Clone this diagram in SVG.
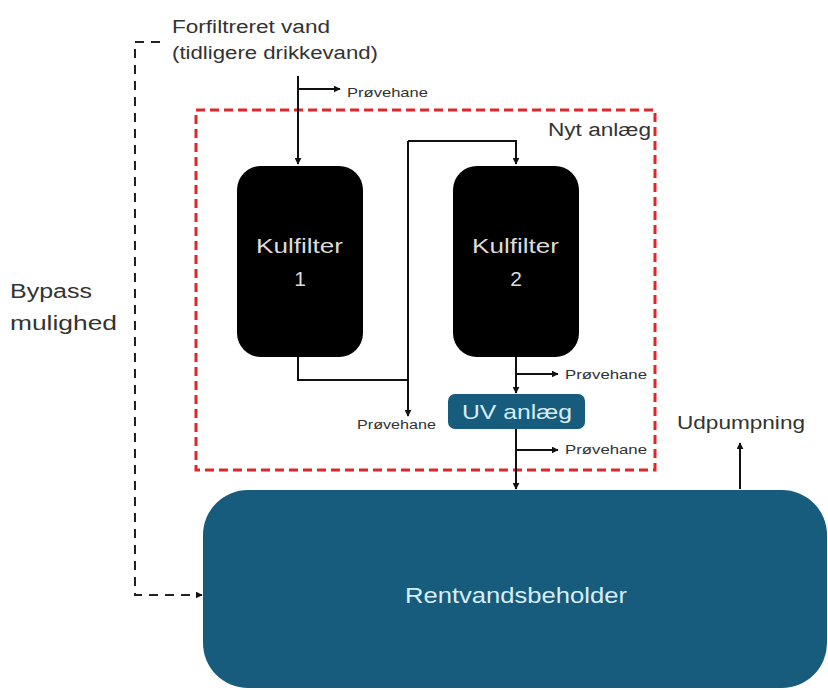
<svg xmlns="http://www.w3.org/2000/svg" width="828" height="690" viewBox="0 0 828 690">
<defs>
<marker id="ah" viewBox="0 0 10 10" refX="9" refY="5" markerWidth="7" markerHeight="7" orient="auto" markerUnits="userSpaceOnUse">
<path d="M0,0 L10,5 L0,10 z" fill="#111"/>
</marker>
<style>
.ln{fill:none;stroke:#111;stroke-width:2}
.dash{fill:none;stroke:#222;stroke-width:2;stroke-dasharray:9,7}
.red{fill:none;stroke:#e0262b;stroke-width:3;stroke-dasharray:9,5}
.t{font-family:"Liberation Sans",Arial,sans-serif;fill:#333}
.w{font-family:"Liberation Sans",Arial,sans-serif;fill:#dcdcdc}
.b{font-family:"Liberation Sans",Arial,sans-serif;fill:#d6eef8}
.filter{fill:#000}
.blue{fill:#175b7d}
</style>
</defs>
<rect width="828" height="690" fill="#fff"/>

<g id="nyt-anlaeg">
<rect class="red" x="196" y="110" width="459" height="360"/>
<text class="t" x="548" y="136" font-size="18" textLength="103" lengthAdjust="spacingAndGlyphs">Nyt anlæg</text>
</g>

<g id="rentvandsbeholder">
<rect class="blue" x="203" y="490" width="624" height="198" rx="45"/>
<text class="b" x="405" y="603" font-size="22" textLength="222" lengthAdjust="spacingAndGlyphs">Rentvandsbeholder</text>
</g>

<g id="kulfilter1">
<rect class="filter" x="237" y="166" width="126" height="191" rx="24"/>
<text class="w" x="256" y="253" font-size="21" textLength="87" lengthAdjust="spacingAndGlyphs">Kulfilter</text>
<text class="w" x="300" y="286" font-size="21" text-anchor="middle">1</text>
</g>

<g id="kulfilter2">
<rect class="filter" x="453" y="166" width="126" height="191" rx="24"/>
<text class="w" x="472" y="253" font-size="21" textLength="87" lengthAdjust="spacingAndGlyphs">Kulfilter</text>
<text class="w" x="516" y="286" font-size="21" text-anchor="middle">2</text>
</g>

<g id="uv-anlaeg">
<rect class="blue" x="448" y="394" width="137" height="35" rx="7"/>
<text class="b" x="462" y="419" font-size="21" textLength="110" lengthAdjust="spacingAndGlyphs">UV anlæg</text>
</g>

<g id="labels">
<text class="t" x="172" y="33" font-size="18" textLength="158" lengthAdjust="spacingAndGlyphs">Forfiltreret vand</text>
<text class="t" x="172" y="59" font-size="18" textLength="206" lengthAdjust="spacingAndGlyphs">(tidligere drikkevand)</text>
<text class="t" x="10" y="298" font-size="20" textLength="82" lengthAdjust="spacingAndGlyphs">Bypass</text>
<text class="t" x="10" y="330" font-size="20" textLength="107" lengthAdjust="spacingAndGlyphs">mulighed</text>
<text class="t" x="677" y="429" font-size="19" textLength="128" lengthAdjust="spacingAndGlyphs">Udpumpning</text>
<text class="t" x="347" y="97" font-size="13" textLength="81" lengthAdjust="spacingAndGlyphs">Prøvehane</text>
<text class="t" x="357" y="429" font-size="13" textLength="79" lengthAdjust="spacingAndGlyphs">Prøvehane</text>
<text class="t" x="565" y="379" font-size="13" textLength="82" lengthAdjust="spacingAndGlyphs">Prøvehane</text>
<text class="t" x="565" y="454" font-size="13" textLength="82" lengthAdjust="spacingAndGlyphs">Prøvehane</text>
</g>

<g id="connectors">
<path class="ln" d="M298,76 V164" marker-end="url(#ah)"/>
<path class="ln" d="M298,89 H340" marker-end="url(#ah)"/>
<path class="ln" d="M298,357 V380 H408"/>
<path class="ln" d="M408,141 V416" marker-end="url(#ah)"/>
<path class="ln" d="M408,141 H516 V164" marker-end="url(#ah)"/>
<path class="ln" d="M516,357 V393" marker-end="url(#ah)"/>
<path class="ln" d="M516,374 H558" marker-end="url(#ah)"/>
<path class="ln" d="M516,429 V489" marker-end="url(#ah)"/>
<path class="ln" d="M516,450 H558" marker-end="url(#ah)"/>
<path class="ln" d="M740,489 V443" marker-end="url(#ah)"/>
<path class="dash" d="M160,42 H135 V595 H202" marker-end="url(#ah)"/>
</g>
</svg>
